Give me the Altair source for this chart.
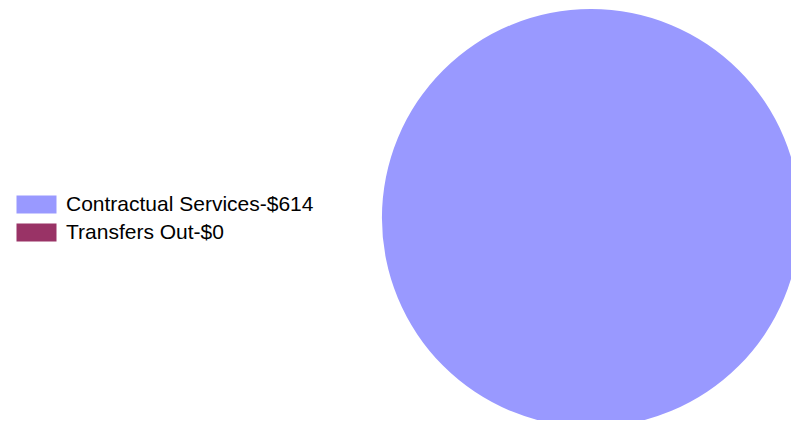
import altair as alt
import pandas as pd

categories = ["Contractual Services-$614", "Transfers Out-$0"]
values = [614, 0]
colors = ["#9999FF", "#993366"]

df = pd.DataFrame({"category": categories, "value": values, "order": [0, 1]})

chart = alt.Chart(df).mark_arc(stroke=None, radius=209).encode(
    theta=alt.Theta("value:Q", stack=True),
    color=alt.Color(
        "category:N",
        scale=alt.Scale(domain=categories, range=colors),
        sort=categories,
        legend=alt.Legend(
            title=None,
            orient="none",
            legendX=-365,
            legendY=176,
            symbolType="M-2,-0.9H2V0.9H-2Z",
            symbolSize=400,
            symbolStrokeWidth=0,
            symbolOpacity=1,
            labelFont="Liberation Sans",
            labelFontSize=21,
            labelColor="#000000",
            labelOffset=19,
            labelLimit=400,
            rowPadding=6,
            padding=0,
        ),
    ),
    order=alt.Order("order:Q"),
).properties(
    width=400,
    height=400,
    autosize=alt.AutoSizeParams(type="none"),
    padding={"left": 383, "top": 10, "right": 0, "bottom": 2},
).configure_view(stroke=None)

chart.save("out.html", embed_options={"renderer": "svg", "actions": False})
